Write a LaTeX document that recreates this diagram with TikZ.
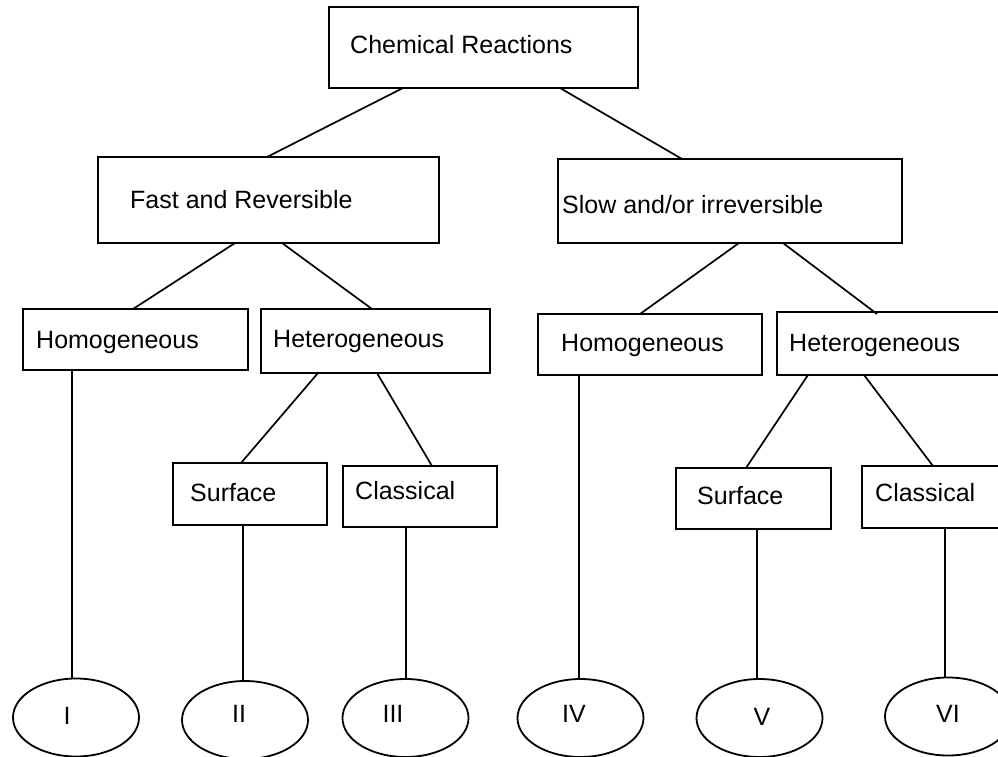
\documentclass[tikz,border=0pt]{standalone}
\usepackage{fontspec}
\newfontfamily\arialx{Liberation Sans}
\usetikzlibrary{shapes.geometric}
\tikzset{
  box/.style={draw, line width=1.8pt, rectangle, inner sep=0pt, outer sep=0pt},
  lbl/.style={anchor=base west, inner sep=0pt, font=\arialx\fontsize{25}{30}\selectfont},
  num/.style={anchor=center, inner sep=0pt, font=\arialx\fontsize{25}{30}\selectfont},
  oval/.style={draw, line width=1.8pt, ellipse, inner sep=0pt, outer sep=0pt,
    minimum width=126pt, minimum height=78pt},
  conn/.style={line width=1.7pt}
}
\begin{document}
\begin{tikzpicture}[x=1pt,y=-1pt]
\clip (0,0) rectangle (998,757);
\fill[white] (0,0) rectangle (998,757);
% boxes
\node[box, minimum width=309pt, minimum height=81pt] (cr) at (483.5,47.5) {};
\node[box, minimum width=341pt, minimum height=86pt] (fr) at (268.5,200) {};
\node[box, minimum width=344pt, minimum height=84pt] (sl) at (730,201) {};
\node[box, minimum width=225pt, minimum height=61pt] (hoL) at (135.5,339.5) {};
\node[box, minimum width=229pt, minimum height=64pt] (heL) at (375.5,341) {};
\node[box, minimum width=224pt, minimum height=61pt] (hoR) at (650,344.5) {};
\node[box, minimum width=229pt, minimum height=63pt] (heR) at (891.5,343.5) {};
\node[box, minimum width=154pt, minimum height=62pt] (suL) at (250,494) {};
\node[box, minimum width=154pt, minimum height=61pt] (clL) at (420,496.5) {};
\node[box, minimum width=155pt, minimum height=61pt] (suR) at (753.5,498.5) {};
\node[box, minimum width=154pt, minimum height=62pt] (clR) at (939,497) {};
% texts
\node[lbl] (crt) at (350,54) {Chemical Reactions};
\node[lbl] (frt) at (130,208) {Fast and Reversible};
\node[lbl] (slt) at (562,213) {Slow and/or irreversible};
\node[lbl] (hoLt) at (36,348) {Homogeneous};
\node[lbl] (heLt) at (273,347) {Heterogeneous};
\node[lbl] (hoRt) at (561,351) {Homogeneous};
\node[lbl] (heRt) at (789,351) {Heterogeneous};
\node[lbl] (suLt) at (190,501) {Surface};
\node[lbl] (clLt) at (355,499) {Classical};
\node[lbl] (suRt) at (697,504) {Surface};
\node[lbl] (clRt) at (875,501) {Classical};
% ellipses
\node[oval] (e1) at (76,717.5) {};
\node[oval] (e2) at (245,720) {};
\node[oval] (e3) at (405.5,718) {};
\node[oval] (e4) at (580.5,718) {};
\node[oval] (e5) at (759.5,718) {};
\node[oval] (e6) at (948,716.5) {};
\node[num] (t1) at (67,716) {I};
\node[num] (t2) at (239,714) {II};
\node[num] (t3) at (393,714) {III};
\node[num] (t4) at (574,714) {IV};
\node[num] (t5) at (762,716.5) {V};
\node[num] (t6) at (948,714) {VI};
% connectors
\draw[conn] ([xshift=74pt]cr.south west) -- ([xshift=169pt]fr.north west);
\draw[conn] ([xshift=231pt]cr.south west) -- ([xshift=124pt]sl.north west);
\draw[conn] ([xshift=137pt]fr.south west) -- ([xshift=110pt]hoL.north west);
\draw[conn] ([xshift=184pt]fr.south west) -- ([xshift=111pt]heL.north west);
\draw[conn] ([xshift=181pt]sl.south west) -- ([xshift=102pt]hoR.north west);
\draw[conn] ([xshift=225pt]sl.south west) -- ([xshift=100pt,yshift=-2pt]heR.north west);
\draw[conn] ([xshift=57pt]heL.south west) -- ([xshift=68pt]suL.north west);
\draw[conn] ([xshift=116pt]heL.south west) -- ([xshift=89pt]clL.north west);
\draw[conn] ([xshift=31pt]heR.south west) -- ([xshift=70pt]suR.north west);
\draw[conn] ([xshift=87pt]heR.south west) -- ([xshift=71pt]clR.north west);
\draw[conn] ([xshift=49pt]hoL.south west) -- ([xshift=49pt]hoL.south west |- e1.north);
\draw[conn] ([xshift=70pt]suL.south west) -- ([xshift=70pt]suL.south west |- e2.north);
\draw[conn] ([xshift=63pt]clL.south west) -- ([xshift=63pt]clL.south west |- e3.north);
\draw[conn] ([xshift=41pt]hoR.south west) -- ([xshift=41pt]hoR.south west |- e4.north);
\draw[conn] ([xshift=81pt]suR.south west) -- ([xshift=81pt]suR.south west |- e5.north);
\draw[conn] ([xshift=83pt]clR.south west) -- ([xshift=83pt]clR.south west |- e6.north);
\end{tikzpicture}
\end{document}
